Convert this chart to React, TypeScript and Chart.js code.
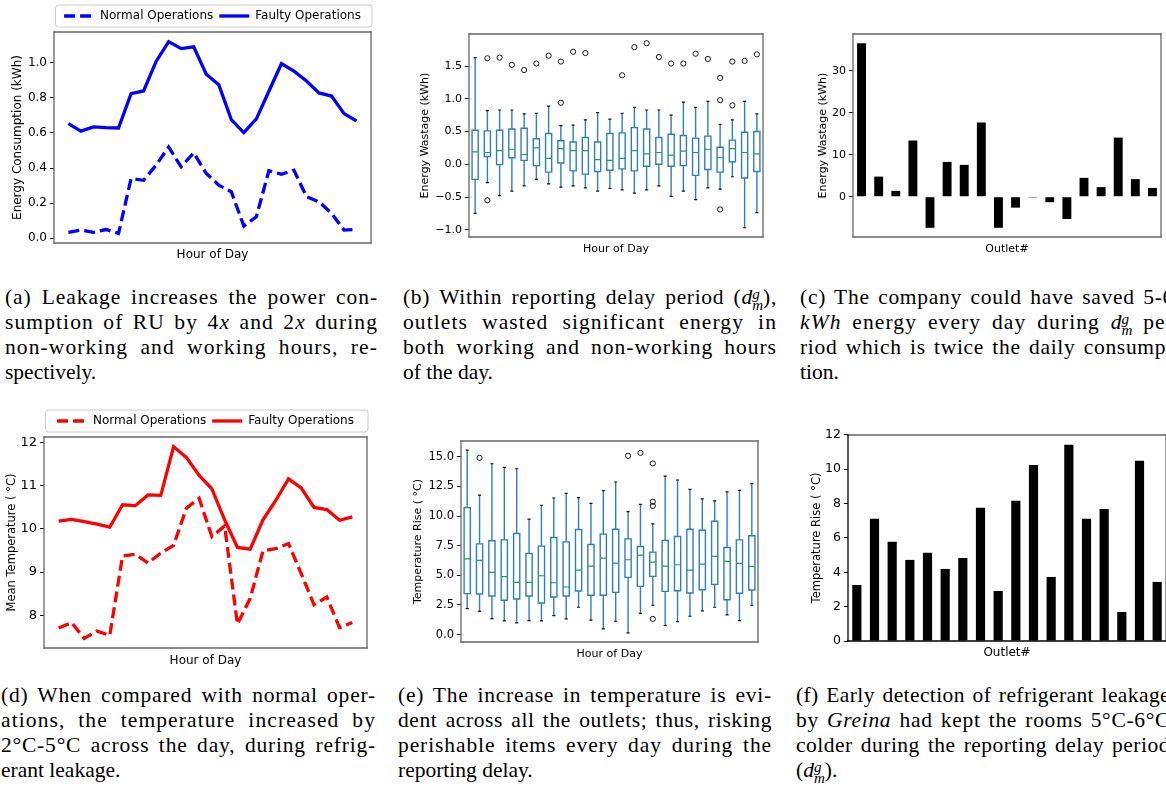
import React, { useEffect, useLayoutEffect, useRef } from 'react';
import { Chart, registerables } from 'chart.js';

Chart.register(...registerables);
Chart.defaults.font.family = "'DejaVu Sans', sans-serif";
Chart.defaults.color = '#000';

// ---------------- (a) energy consumption ----------------
const hoursOfDay = [0, 1, 2, 3, 4, 5, 6, 7, 8, 9, 10, 11, 12, 13, 14, 15, 16, 17, 18, 19, 20, 21, 22, 23];
const aNormal = [0.034, 0.047, 0.034, 0.05, 0.028, 0.34, 0.33, 0.417, 0.52, 0.407, 0.487, 0.37, 0.303, 0.265, 0.07, 0.123, 0.385, 0.365, 0.388, 0.237, 0.208, 0.142, 0.047, 0.051];
const aFaulty = [0.653, 0.61, 0.634, 0.63, 0.628, 0.824, 0.839, 1.007, 1.12, 1.08, 1.09, 0.934, 0.875, 0.676, 0.602, 0.68, 0.837, 0.994, 0.952, 0.896, 0.828, 0.81, 0.71, 0.668];
const aYTicks = [0, 0.2, 0.4, 0.6, 0.8, 1.0];

// ---------------- (b) energy wastage box plot ----------------
const bLow = [-0.75, -0.28, -0.48, -0.41, -0.33, -0.23, -0.30, -0.35, -0.33, -0.36, -0.41, -0.37, -0.39, -0.44, -0.39, -0.33, -0.49, -0.41, -0.54, -0.36, -0.38, -0.19, -0.97, -0.74];
const bQ1 = [-0.23, 0.12, -0.005, 0.10, 0.06, -0.02, -0.12, 0.02, -0.10, -0.15, -0.11, -0.09, -0.07, -0.10, -0.03, 0.0, -0.03, -0.02, -0.17, -0.08, -0.12, 0.04, -0.21, -0.11];
const bMedian = [0.19, 0.18, 0.21, 0.23, 0.15, 0.25, 0.09, 0.24, 0.21, 0.21, 0.07, 0.06, 0.09, 0.21, 0.16, 0.18, 0.14, 0.20, 0.18, 0.23, 0.10, 0.24, 0.18, 0.16];
const bQ3 = [0.52, 0.51, 0.52, 0.54, 0.55, 0.39, 0.47, 0.36, 0.34, 0.41, 0.34, 0.47, 0.48, 0.56, 0.54, 0.41, 0.46, 0.44, 0.40, 0.43, 0.26, 0.37, 0.49, 0.50];
const bHigh = [1.63, 0.82, 0.83, 0.83, 0.77, 0.78, 0.89, 0.59, 0.60, 0.68, 0.79, 0.69, 0.78, 0.87, 0.83, 0.83, 0.75, 0.95, 0.87, 0.96, 0.61, 0.68, 0.96, 0.77];
const bFliers = [[], [1.62, -0.55], [1.63], [1.52], [1.44], [1.54], [1.66], [1.57, 0.94], [1.72], [1.70], [], [], [1.36], [1.79], [1.85], [1.64], [1.54], [1.54], [1.69], [1.61], [1.32, 0.98, -0.69], [1.57, 0.90], [1.58], [1.68]];
const bYTicks = [-1.0, -0.5, 0.0, 0.5, 1.0, 1.5];

// ---------------- (c) energy wastage per outlet ----------------
const outlets = ['1', '2', '3', '4', '5', '6', '7', '8', '9', '10', '11', '12', '13', '14', '15', '16', '17', '18'];
const cWastage = [36.6, 4.8, 1.4, 13.4, -7.4, 8.3, 7.6, 17.7, -7.4, -2.6, -0.2, -1.3, -5.3, 4.5, 2.3, 14.1, 4.2, 2.1];
const cYTicks = [0, 10, 20, 30];

// ---------------- (d) mean temperature ----------------
const dNormal = [7.70, 7.83, 7.46, 7.63, 7.53, 9.37, 9.41, 9.21, 9.44, 9.62, 10.48, 10.71, 9.82, 10.07, 7.79, 8.39, 9.49, 9.54, 9.66, 8.96, 8.24, 8.42, 7.71, 7.83];
const dFaulty = [10.18, 10.22, 10.17, 10.11, 10.04, 10.56, 10.54, 10.79, 10.78, 11.91, 11.66, 11.24, 10.93, 10.21, 9.57, 9.53, 10.21, 10.66, 11.16, 10.95, 10.50, 10.45, 10.20, 10.28];
const dYTicks = [8, 9, 10, 11, 12];

// ---------------- (e) temperature rise box plot ----------------
const eLow = [2.19, 1.96, 1.35, 1.15, 0.98, 1.18, 1.15, 1.60, 1.32, 2.30, 1.21, 0.48, 1.12, 0.14, 1.79, 2.47, 0.76, 1.09, 1.54, 1.99, 2.30, 1.65, 1.18, 2.47];
const eQ1 = [3.45, 3.42, 3.25, 2.89, 3.00, 3.25, 2.66, 3.17, 3.25, 3.67, 3.31, 3.31, 3.56, 4.82, 4.06, 4.91, 3.64, 3.70, 3.50, 3.78, 4.23, 2.94, 3.48, 3.76];
const eMedian = [6.39, 6.25, 5.24, 4.88, 4.40, 4.40, 4.96, 4.37, 4.01, 5.44, 5.78, 6.45, 6.03, 6.31, 6.70, 6.11, 5.78, 5.89, 5.44, 5.94, 6.59, 6.17, 6.00, 5.75];
const eQ3 = [10.71, 7.65, 7.91, 7.99, 8.52, 6.84, 7.46, 8.19, 7.82, 8.86, 7.60, 8.47, 8.89, 8.07, 7.43, 6.95, 7.93, 8.27, 8.89, 8.80, 9.56, 7.35, 7.99, 8.33];
const eHigh = [15.56, 11.77, 14.41, 14.10, 13.99, 9.73, 10.91, 11.52, 11.91, 11.55, 11.07, 12.14, 12.87, 10.37, 10.99, 9.34, 13.37, 13.04, 12.25, 11.44, 11.27, 12.03, 12.17, 12.73];
const eFliers = [[], [14.91], [], [], [], [], [], [], [], [], [], [], [], [15.08], [15.33], [14.44, 11.2, 10.85, 1.32], [], [], [], [], [], [], [], []];
const eYTicks = [0.0, 2.5, 5.0, 7.5, 10.0, 12.5, 15.0];

// ---------------- (f) temperature rise per outlet ----------------
const fRise = [3.26, 7.11, 5.77, 4.72, 5.13, 4.19, 4.83, 7.75, 2.91, 8.16, 10.25, 3.73, 11.42, 7.11, 7.69, 1.69, 10.49, 3.44];
const fYTicks = [0, 2, 4, 6, 8, 10, 12];

// ---------------- helpers ----------------
const SPINE = '#666666';

const framePlugin = {
  id: 'frame',
  afterDatasetsDraw(chart: any, _args: any, opts: any) {
    const { ctx, chartArea } = chart;
    const { left, top, right, bottom } = chartArea;
    const col = (side: string) => (opts && opts[side]) || SPINE;
    ctx.save();
    ctx.lineWidth = 1.3;
    ctx.lineCap = 'square';
    const seg = (c: string, x1: number, y1: number, x2: number, y2: number) => {
      ctx.strokeStyle = c;
      ctx.beginPath();
      ctx.moveTo(x1, y1);
      ctx.lineTo(x2, y2);
      ctx.stroke();
    };
    seg(col('top'), left, top, right, top);
    seg(col('right'), right, top, right, bottom);
    seg(col('bottom'), left, bottom, right, bottom);
    seg(col('left'), left, top, left, bottom);
    ctx.restore();
  },
};

const legendFramePlugin = {
  id: 'legendFrame',
  beforeDraw(chart: any) {
    const lg = chart.legend;
    if (!lg || !lg.legendHitBoxes || !lg.legendHitBoxes.length) return;
    const hb = lg.legendHitBoxes[0];
    const cy = hb.top + hb.height / 2;
    const { left, right } = chart.chartArea;
    const ctx = chart.ctx;
    const x0 = left + 1.5;
    const x1 = right + 1;
    ctx.save();
    ctx.beginPath();
    ctx.roundRect(x0, cy - 11, x1 - x0, 22, 3);
    ctx.fillStyle = 'rgba(255,255,255,0.8)';
    ctx.fill();
    ctx.strokeStyle = '#cccccc';
    ctx.lineWidth = 1;
    ctx.stroke();
    ctx.restore();
  },
};

const minusFmt = (v: number, d: number) => (v < 0 ? '\u2212' + Math.abs(v).toFixed(d) : v.toFixed(d));

function padded(lo: number, hi: number) {
  const m = (hi - lo) * 0.05;
  return { min: lo - m, max: hi + m };
}

function yAxis(o: {
  range: { min: number; max: number };
  ticks: number[];
  digits: number;
  width: number;
  title: string;
  titleSize: number;
  tickSize: number;
  titlePad: number;
}) {
  return {
    type: 'linear',
    position: 'left',
    min: o.range.min,
    max: o.range.max,
    afterBuildTicks: (s: any) => {
      s.ticks = o.ticks.map((v) => ({ value: v }));
    },
    afterFit: (s: any) => {
      s.width = o.width;
    },
    ticks: {
      font: { size: o.tickSize },
      color: '#000',
      padding: 3,
      callback: (v: any) => minusFmt(Number(v), o.digits),
    },
    grid: { display: true, drawOnChartArea: false, drawTicks: true, tickLength: 4, color: '#000', lineWidth: 1 },
    border: { display: false },
    title: { display: true, text: o.title, color: '#000', font: { size: o.titleSize }, padding: { top: o.titlePad, bottom: 0 } },
  };
}

function xAxis(o: { type: string; min?: number; max?: number; height: number; title: string; titleSize: number; titlePad: number }) {
  const ax: any = {
    type: o.type,
    position: 'bottom',
    ticks: { display: false },
    grid: { display: false },
    border: { display: false },
    afterFit: (s: any) => {
      s.height = o.height;
    },
    title: { display: true, text: o.title, color: '#000', font: { size: o.titleSize }, padding: { top: 0, bottom: o.titlePad } },
  };
  if (o.min !== undefined) ax.min = o.min;
  if (o.max !== undefined) ax.max = o.max;
  return ax;
}

function boxDatasets(low: number[], q1: number[], med: number[], q3: number[], high: number[], fliers: number[][]) {
  const hw = 0.25;
  const cw = 0.125;
  const boxes: any[] = [];
  const whiskers: any[] = [];
  const caps: any[] = [];
  const medians: any[] = [];
  const outl: any[] = [];
  low.forEach((_, i) => {
    const x = i + 1;
    boxes.push({ x: x - hw, y: q1[i] }, { x: x + hw, y: q1[i] }, { x: x + hw, y: q3[i] }, { x: x - hw, y: q3[i] }, { x: x - hw, y: q1[i] }, { x, y: null });
    whiskers.push({ x, y: low[i] }, { x, y: q1[i] }, { x, y: null }, { x, y: q3[i] }, { x, y: high[i] }, { x, y: null });
    caps.push({ x: x - cw, y: low[i] }, { x: x + cw, y: low[i] }, { x, y: null }, { x: x - cw, y: high[i] }, { x: x + cw, y: high[i] }, { x, y: null });
    medians.push({ x: x - hw, y: med[i] }, { x: x + hw, y: med[i] }, { x, y: null });
    fliers[i].forEach((v) => outl.push({ x, y: v }));
  });
  const seg = { showLine: true, pointRadius: 0, fill: false, spanGaps: false, tension: 0 };
  return [
    { label: 'fliers', data: outl, pointRadius: 2.6, pointBorderWidth: 0.9, pointBorderColor: '#000', pointBackgroundColor: 'rgba(0,0,0,0)', showLine: false },
    { label: 'medians', data: medians, borderColor: '#2ca02c', borderWidth: 1.2, ...seg },
    { label: 'caps', data: caps, borderColor: '#111', borderWidth: 1.2, ...seg },
    { label: 'boxes', data: boxes, borderColor: '#2f7fba', borderWidth: 1.4, borderCapStyle: 'square', borderJoinStyle: 'miter', ...seg },
    { label: 'whiskers', data: whiskers, borderColor: '#2f7fba', borderWidth: 1.4, ...seg },
  ];
}

const lineLegend = {
  display: true,
  position: 'top',
  fullSize: false,
  align: 'center',
  labels: {
    usePointStyle: true,
    pointStyle: 'line',
    pointStyleWidth: 30,
    padding: 6,
    color: '#000',
    font: { size: 12 },
    generateLabels: (chart: any) => {
      const items = Chart.defaults.plugins.legend.labels.generateLabels(chart);
      return items.map((it: any) => {
        const ds = chart.data.datasets[it.datasetIndex];
        return { ...it, pointStyle: 'line', lineDash: ds.borderDash || [], lineWidth: ds.borderWidth, strokeStyle: ds.borderColor, fillStyle: ds.borderColor };
      });
    },
  },
};

// ---------------- chart configs ----------------
function configA(): any {
  return {
    type: 'line',
    data: {
      datasets: [
        { label: 'Normal Operations', data: hoursOfDay.map((h, i) => ({ x: h, y: aNormal[i] })), borderColor: '#0000ff', backgroundColor: '#0000ff', borderWidth: 3.3, borderDash: [11, 5], pointRadius: 0, tension: 0, fill: false },
        { label: 'Faulty Operations', data: hoursOfDay.map((h, i) => ({ x: h, y: aFaulty[i] })), borderColor: '#0000ff', backgroundColor: '#0000ff', borderWidth: 3.3, pointRadius: 0, tension: 0, fill: false },
      ],
    },
    options: {
      animation: false,
      responsive: false,
      events: [],
      layout: { padding: { top: 0, right: 19, bottom: 0, left: 0 } },
      plugins: { legend: lineLegend, tooltip: { enabled: false } },
      scales: {
        x: xAxis({ type: 'linear', min: -1.15, max: 24.15, height: 25, title: 'Hour of Day', titleSize: 12, titlePad: 5.8 }),
        y: yAxis({ range: padded(Math.min(...aNormal), Math.max(...aFaulty)), ticks: aYTicks, digits: 1, width: 54, title: 'Energy Consumption (kWh)', titleSize: 12, tickSize: 12, titlePad: 10.8 }),
      },
    },
    plugins: [framePlugin, legendFramePlugin],
  };
}

function configD(): any {
  return {
    type: 'line',
    data: {
      datasets: [
        { label: 'Normal Operations', data: hoursOfDay.map((h, i) => ({ x: h, y: dNormal[i] })), borderColor: '#ff0000', backgroundColor: '#ff0000', borderWidth: 3.3, borderDash: [11, 5], pointRadius: 0, tension: 0, fill: false },
        { label: 'Faulty Operations', data: hoursOfDay.map((h, i) => ({ x: h, y: dFaulty[i] })), borderColor: '#ff0000', backgroundColor: '#ff0000', borderWidth: 3.3, pointRadius: 0, tension: 0, fill: false },
      ],
    },
    options: {
      animation: false,
      responsive: false,
      events: [],
      layout: { padding: { top: 0, right: 18, bottom: 0, left: 0 } },
      plugins: { legend: lineLegend, tooltip: { enabled: false } },
      scales: {
        x: xAxis({ type: 'linear', min: -1.15, max: 24.15, height: 22, title: 'Hour of Day', titleSize: 12, titlePad: 1.8 }),
        y: yAxis({ range: padded(Math.min(...dNormal), Math.max(...dFaulty)), ticks: dYTicks, digits: 0, width: 44, title: 'Mean Temperature ( °C)', titleSize: 11.5, tickSize: 13, titlePad: 5.1 }),
      },
    },
    plugins: [framePlugin, legendFramePlugin],
  };
}

function configBox(o: { low: number[]; q1: number[]; med: number[]; q3: number[]; high: number[]; fliers: number[][]; range: { min: number; max: number }; ticks: number[]; yWidth: number; title: string; titlePad: number; xHeight: number; xPad: number; padTop: number; padRight: number; tickSize: number }): any {
  return {
    type: 'scatter',
    data: { datasets: boxDatasets(o.low, o.q1, o.med, o.q3, o.high, o.fliers) },
    options: {
      animation: false,
      responsive: false,
      events: [],
      layout: { padding: { top: o.padTop, right: o.padRight, bottom: 0, left: 0 } },
      plugins: { legend: { display: false }, tooltip: { enabled: false } },
      scales: {
        x: xAxis({ type: 'linear', min: 0.5, max: o.low.length + 0.5, height: o.xHeight, title: 'Hour of Day', titleSize: 11, titlePad: o.xPad }),
        y: yAxis({ range: o.range, ticks: o.ticks, digits: 1, width: o.yWidth, title: o.title, titleSize: 11, tickSize: o.tickSize, titlePad: o.titlePad }),
      },
    },
    plugins: [framePlugin],
  };
}

function allValues(low: number[], high: number[], fliers: number[][]) {
  const vals = [...low, ...high];
  fliers.forEach((f) => vals.push(...f));
  return padded(Math.min(...vals), Math.max(...vals));
}

function configB(): any {
  return configBox({ low: bLow, q1: bQ1, med: bMedian, q3: bQ3, high: bHigh, fliers: bFliers, range: allValues(bLow, bHigh, bFliers), ticks: bYTicks, yWidth: 69, title: 'Energy Wastage (kWh)', titlePad: 18.4, xHeight: 28, xPad: 9.4, padTop: 14, padRight: 7, tickSize: 11 });
}

function configE(): any {
  return configBox({ low: eLow, q1: eQ1, med: eMedian, q3: eQ3, high: eHigh, fliers: eFliers, range: allValues(eLow, eHigh, eFliers), ticks: eYTicks, yWidth: 61, title: 'Temperature Rise ( °C)', titlePad: 11.4, xHeight: 26, xPad: 7.4, padTop: 13, padRight: 12, tickSize: 11.5 });
}

function configBar(o: { values: number[]; range: { min: number; max: number }; ticks: number[]; yWidth: number; title: string; titleSize: number; tickSize: number; titlePad: number; xHeight: number; xPad: number; xTitleSize: number; padTop: number; padRight: number; frame: any }): any {
  return {
    type: 'bar',
    data: {
      labels: outlets,
      datasets: [{ label: 'value', data: o.values, backgroundColor: '#000', borderWidth: 0, barPercentage: 0.52, categoryPercentage: 1.0 }],
    },
    options: {
      animation: false,
      responsive: false,
      events: [],
      layout: { padding: { top: o.padTop, right: o.padRight, bottom: 0, left: 0 } },
      plugins: { legend: { display: false }, tooltip: { enabled: false }, frame: o.frame },
      scales: {
        x: xAxis({ type: 'category', height: o.xHeight, title: 'Outlet#', titleSize: o.xTitleSize, titlePad: o.xPad }),
        y: yAxis({ range: o.range, ticks: o.ticks, digits: 0, width: o.yWidth, title: o.title, titleSize: o.titleSize, tickSize: o.tickSize, titlePad: o.titlePad }),
      },
    },
    plugins: [framePlugin],
  };
}

function configC(): any {
  return configBar({ values: cWastage, range: padded(Math.min(...cWastage), Math.max(...cWastage)), ticks: cYTicks, yWidth: 63, title: 'Energy Wastage (kWh)', titleSize: 11, tickSize: 11, titlePad: 26.4, xHeight: 28, xPad: 9.4, xTitleSize: 11, padTop: 14, padRight: 5, frame: {} });
}

function configF(): any {
  return configBar({ values: fRise, range: { min: 0, max: Math.max(...fRise) * 1.05 }, ticks: fYTicks, yWidth: 58, title: 'Temperature Rise ( °C)', titleSize: 11.5, tickSize: 12.5, titlePad: 19.8, xHeight: 24, xPad: 4.8, xTitleSize: 12, padTop: 15, padRight: 14, frame: { left: '#000', bottom: '#000' } });
}

// ---------------- components ----------------
function ChartBox(props: { left: number; top: number; width: number; height: number; config: () => any }) {
  const ref = useRef<HTMLCanvasElement>(null);
  useEffect(() => {
    const chart = new Chart(ref.current as HTMLCanvasElement, props.config());
    return () => chart.destroy();
  }, []);
  return (
    <div style={{ position: 'absolute', left: props.left, top: props.top, width: props.width, height: props.height }}>
      <canvas ref={ref} width={props.width} height={props.height} style={{ display: 'block' }} />
    </div>
  );
}

function Dmg() {
  return (
    <span style={{ whiteSpace: 'nowrap', letterSpacing: 0 }}>
      <i>d</i>
      <span style={{ display: 'inline-block', verticalAlign: '-0.42em', fontSize: '0.7em', lineHeight: '0.78em', textAlign: 'left' }}>
        <i style={{ display: 'block' }}>g</i>
        <i style={{ display: 'block' }}>m</i>
      </span>
    </span>
  );
}

function CaptionLine(props: { width: number; top: number; last: boolean; children: React.ReactNode }) {
  const divRef = useRef<HTMLDivElement>(null);
  const spanRef = useRef<HTMLSpanElement>(null);
  useLayoutEffect(() => {
    const d = divRef.current;
    const s = spanRef.current;
    if (!d || !s || props.last) return;
    d.style.textAlign = 'left';
    d.style.textAlignLast = 'left';
    d.style.letterSpacing = '0px';
    const natural = s.getBoundingClientRect().width;
    const n = (s.textContent || '').length;
    const extra = props.width - natural;
    const ls = Math.max(0, Math.min(1.1, (extra * 0.65) / Math.max(1, n)));
    d.style.letterSpacing = ls.toFixed(2) + 'px';
    d.style.textAlign = 'justify';
    d.style.textAlignLast = 'justify';
  }, []);
  return (
    <div
      ref={divRef}
      style={{
        position: 'absolute',
        left: 0,
        top: props.top,
        width: props.width,
        height: 25,
        lineHeight: '25px',
        textAlign: props.last ? 'left' : 'justify',
        textAlignLast: props.last ? 'left' : 'justify',
        overflow: 'hidden',
        whiteSpace: 'normal',
      }}
    >
      <span ref={spanRef}>{props.children}</span>
    </div>
  );
}

function Caption(props: { left: number; top: number; width: number; lines: React.ReactNode[] }) {
  return (
    <div style={{ position: 'absolute', left: props.left, top: props.top, width: props.width, fontFamily: "'Liberation Serif', serif", fontSize: 21.5, color: '#000' }}>
      {props.lines.map((ln, i) => (
        <CaptionLine key={i} width={props.width} top={i * 25} last={i === props.lines.length - 1}>
          {ln}
        </CaptionLine>
      ))}
    </div>
  );
}

const ROW1 = 285;
const ROW2 = 683;

export default function App() {
  return (
    <div style={{ position: 'absolute', left: 0, top: 0, width: 1166, height: 806, overflow: 'hidden', background: '#fff' }}>
      <ChartBox left={0} top={4} width={390} height={264} config={configA} />
      <ChartBox left={400} top={20} width={370} height={245} config={configB} />
      <ChartBox left={790} top={20} width={376} height={245} config={configC} />
      <ChartBox left={0} top={409} width={385} height={261} config={configD} />
      <ChartBox left={400} top={428} width={370} height={240} config={configE} />
      <ChartBox left={790} top={420} width={390} height={245} config={configF} />

      <Caption
        left={5}
        top={ROW1}
        width={373}
        lines={[
          <>(a) Leakage increases the power con-</>,
          <>sumption of RU by 4<i>x</i> and 2<i>x</i> during</>,
          <>non-working and working hours, re-</>,
          <>spectively.</>,
        ]}
      />
      <Caption
        left={403}
        top={ROW1}
        width={374}
        lines={[
          <>(b) Within reporting delay period (<Dmg />),</>,
          <>outlets wasted significant energy in</>,
          <>both working and non-working hours</>,
          <>of the day.</>,
        ]}
      />
      <Caption
        left={800}
        top={ROW1}
        width={374}
        lines={[
          <>(c) The company could have saved 5-6</>,
          <><i>kWh</i> energy every day during <Dmg /> pe-</>,
          <>riod which is twice the daily consump-</>,
          <>tion.</>,
        ]}
      />
      <Caption
        left={1}
        top={ROW2}
        width={375}
        lines={[
          <>(d) When compared with normal oper-</>,
          <>ations, the temperature increased by</>,
          <>2°C-5°C across the day, during refrig-</>,
          <>erant leakage.</>,
        ]}
      />
      <Caption
        left={398}
        top={ROW2}
        width={374}
        lines={[
          <>(e) The increase in temperature is evi-</>,
          <>dent across all the outlets; thus, risking</>,
          <>perishable items every day during the</>,
          <>reporting delay.</>,
        ]}
      />
      <Caption
        left={796}
        top={ROW2}
        width={374}
        lines={[
          <>(f) Early detection of refrigerant leakage</>,
          <>by <i>Greina</i> had kept the rooms 5°C-6°C</>,
          <>colder during the reporting delay period</>,
          <>(<Dmg />).</>,
        ]}
      />
    </div>
  );
}
